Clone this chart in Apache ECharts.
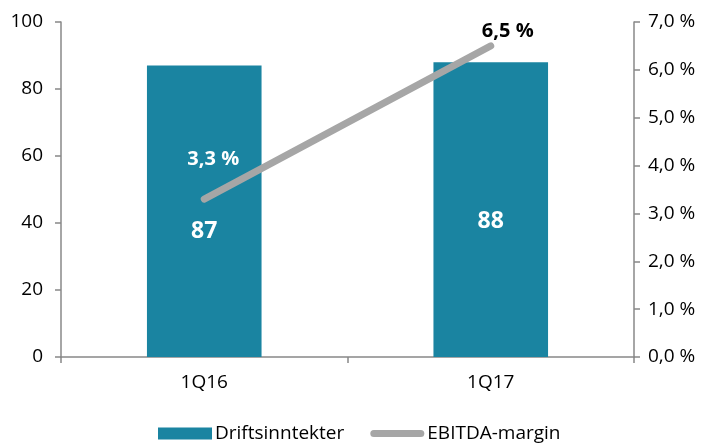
<!DOCTYPE html>
<html>
<head>
<meta charset="utf-8">
<script src="https://cdn.jsdelivr.net/npm/echarts@6/dist/echarts.min.js"></script>
<style>
html,body{margin:0;padding:0;background:#fff;}
#chart{width:702px;height:443px;}
</style>
</head>
<body>
<div id="chart"></div>
<script>
var categories = ['1Q16', '1Q17'];
var revenue = [87, 88];
var ebitdaMargin = [3.3, 6.5];
var leftTicks = [0, 100, 20];
var rightTicks = [0, 7, 1];

function pct(v){
	return v.toFixed(1).replace('.', ',') + ' %';
}

var chart = echarts.init(document.getElementById('chart'));
var font = '"Open Sans", sans-serif';
var grey = '#a6a6a6';
var option = {
	animation: false,
	textStyle: { fontFamily: font },
	grid: { left: 61, right: 68, top: 22, bottom: 86 },
	legend: {
		bottom: -5,
		left: 153,
		itemGap: 26,
		itemWidth: 54,
		itemHeight: 12,
		textStyle: { fontSize: 19, color: '#000', fontFamily: font, padding: [0, 0, 0, -2] },
		data: [
			{ name: 'Driftsinntekter', icon: 'rect' },
			{ name: 'EBITDA-margin', icon: 'path://M3.5,0 L50.5,0 A3.5,3.5 0 0 1 50.5,7 L3.5,7 A3.5,3.5 0 0 1 3.5,0 Z', itemStyle: { color: grey } }
		]
	},
	xAxis: {
		type: 'category',
		data: categories,
		axisLine: { lineStyle: { color: '#888', width: 1.5 } },
		axisTick: { show: true, length: 6, lineStyle: { color: '#888', width: 1.5 } },
		axisLabel: { color: '#000', fontSize: 19, margin: 16, fontFamily: font }
	},
	yAxis: [
		{
			type: 'value',
			min: leftTicks[0], max: leftTicks[1], interval: leftTicks[2],
			splitLine: { show: false },
			axisLine: { show: true, lineStyle: { color: '#888', width: 1.5 } },
			axisTick: { show: true, length: 6, lineStyle: { color: '#888', width: 1.5 } },
			axisLabel: { color: '#000', fontSize: 19, margin: 18, fontFamily: font }
		},
		{
			type: 'value',
			min: rightTicks[0], max: rightTicks[1], interval: rightTicks[2],
			splitLine: { show: false },
			axisLine: { show: true, lineStyle: { color: '#888', width: 1.5 } },
			axisTick: { show: true, length: 6, lineStyle: { color: '#888', width: 1.5 } },
			axisLabel: { color: '#000', fontSize: 19, margin: 14, fontFamily: font, formatter: pct }
		}
	],
	series: [
		{
			name: 'Driftsinntekter',
			type: 'bar',
			barWidth: '40%',
			itemStyle: { color: '#1a84a1' },
			label: {
				show: true, position: 'inside',
				color: '#fff', fontSize: 23, fontWeight: 'bold', fontFamily: font
			},
			data: [
				{ value: revenue[0], label: { offset: [0, 20] } },
				{ value: revenue[1], label: { offset: [0, 12] } }
			]
		},
		{
			name: 'EBITDA-margin',
			type: 'line',
			yAxisIndex: 1,
			symbol: 'circle',
			symbolSize: 1,
			lineStyle: { color: grey, width: 7, cap: 'round' },
			itemStyle: { color: grey },
			label: {
				show: true, position: 'top', fontSize: 20, fontWeight: 'bold', fontFamily: font,
				formatter: function(p){ return pct(p.value); }
			},
			data: [
				{ value: ebitdaMargin[0], label: { color: '#fff', offset: [9, -24] } },
				{ value: ebitdaMargin[1], label: { color: '#000', offset: [17, 1] } }
			]
		}
	]
};
chart.setOption(option);
</script>
</body>
</html>
